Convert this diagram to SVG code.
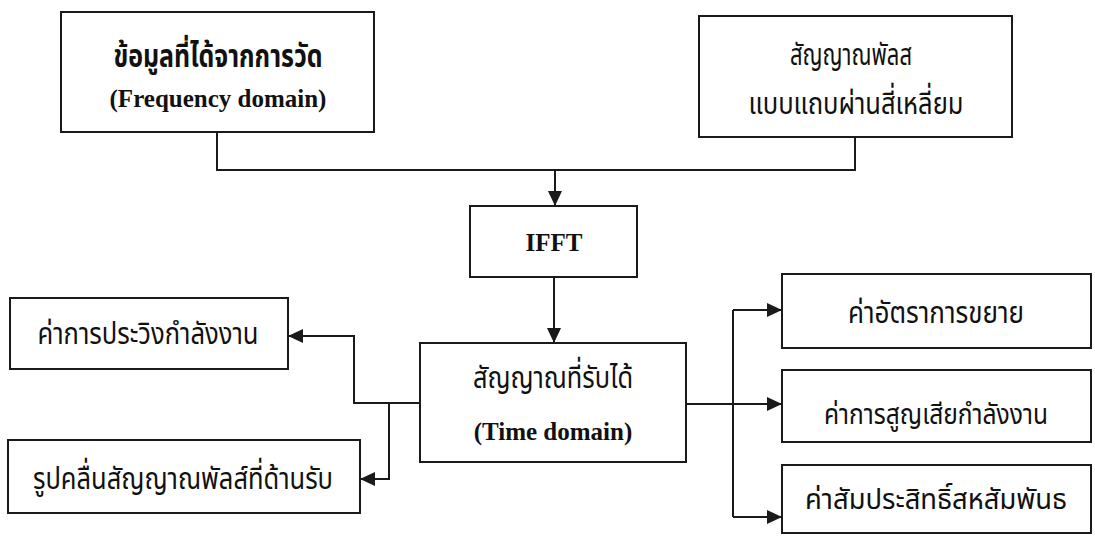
<svg xmlns="http://www.w3.org/2000/svg" width="1095" height="536" viewBox="0 0 1095 536">
<defs>
<marker id="ah" markerUnits="userSpaceOnUse" markerWidth="16" markerHeight="14" refX="15" refY="7" orient="auto">
<path d="M0,0 L15,7 L0,14 Z" fill="#1a1a1a"/>
</marker>
<style>
.box{fill:#fff;stroke:#1a1a1a;stroke-width:2}
.th{font-family:"Noto Sans Thai","Noto Sans",sans-serif;font-size:31px;fill:#111;text-anchor:middle}
.sm{font-size:29px}
.en{font-family:"Liberation Serif",serif;font-weight:bold;font-size:25px;fill:#111;text-anchor:middle}
.b{font-weight:bold}
.ln{fill:none;stroke:#1a1a1a;stroke-width:2}
</style>
</defs>
<rect width="1095" height="536" fill="#fff"/>
<g id="connectors">
<path class="ln" d="M217,132 V170 H855 V137"/>
<path class="ln" d="M555,170 V206" marker-end="url(#ah)"/>
<path class="ln" d="M554,277 V343" marker-end="url(#ah)"/>
<path class="ln" d="M420,403 H354 V336 H288" marker-end="url(#ah)"/>
<path class="ln" d="M389,403 V479 H360" marker-end="url(#ah)"/>
<path class="ln" d="M686,404 H782" marker-end="url(#ah)"/>
<path class="ln" d="M733,310 V517"/>
<path class="ln" d="M733,310 H782" marker-end="url(#ah)"/>
<path class="ln" d="M733,517 H782" marker-end="url(#ah)"/>
</g>
<g id="measured">
<rect class="box" x="61" y="12" width="313" height="120"/>
<text class="th b" x="218" y="67" textLength="209" lengthAdjust="spacingAndGlyphs">ข้อมูลที่ได้จากการวัด</text>
<text class="en" x="218" y="107">(Frequency domain)</text>
</g>
<g id="pulse">
<rect class="box" x="699" y="16" width="313" height="121"/>
<text class="th" x="851" y="65" textLength="122" lengthAdjust="spacingAndGlyphs">สัญญาณพัลส</text>
<text class="th" x="856" y="114" textLength="215" lengthAdjust="spacingAndGlyphs">แบบแถบผ่านสี่เหลี่ยม</text>
</g>
<g id="ifft">
<rect class="box" x="470" y="206" width="167" height="71"/>
<text class="en" x="554" y="251">IFFT</text>
</g>
<g id="received">
<rect class="box" x="420" y="343" width="266" height="119"/>
<text class="th" x="553" y="388" textLength="160" lengthAdjust="spacingAndGlyphs">สัญญาณที่รับได้</text>
<text class="en" x="553" y="440">(Time domain)</text>
</g>
<g id="dispersion">
<rect class="box" x="10" y="298" width="278" height="71"/>
<text class="th" x="148" y="344" textLength="221" lengthAdjust="spacingAndGlyphs">ค่าการประวิงกำลังงาน</text>
</g>
<g id="waveform">
<rect class="box" x="8" y="440" width="352" height="73"/>
<text class="th" x="183" y="489" textLength="300" lengthAdjust="spacingAndGlyphs">รูปคลื่นสัญญาณพัลส์ที่ด้านรับ</text>
</g>
<g id="gain">
<rect class="box" x="782" y="274" width="309" height="74"/>
<text class="th" x="936" y="323" textLength="176" lengthAdjust="spacingAndGlyphs">ค่าอัตราการขยาย</text>
</g>
<g id="loss">
<rect class="box" x="782" y="370" width="309" height="72"/>
<text class="th sm" x="936" y="424" textLength="224" lengthAdjust="spacingAndGlyphs">ค่าการสูญเสียกำลังงาน</text>
</g>
<g id="correlation">
<rect class="box" x="782" y="465" width="309" height="68"/>
<text class="th sm" x="936" y="509" textLength="262" lengthAdjust="spacingAndGlyphs">ค่าสัมประสิทธิ์สหสัมพันธ</text>
</g>
</svg>
